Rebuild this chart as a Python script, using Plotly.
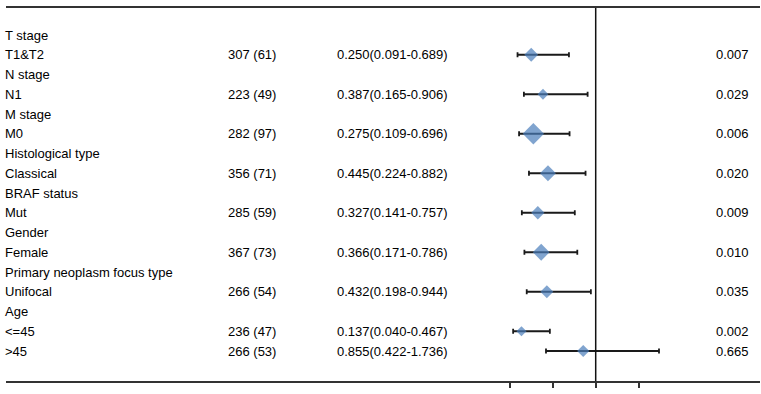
import plotly.graph_objects as go

# ---- data ----
row_labels = ["T stage", "T1&T2", "N stage", "N1", "M stage", "M0",
              "Histological type", "Classical", "BRAF status", "Mut",
              "Gender", "Female", "Primary neoplasm focus type", "Unifocal",
              "Age", "<=45", ">45"]
counts = ["", "307 (61)", "", "223 (49)", "", "282 (97)", "", "356 (71)",
          "", "285 (59)", "", "367 (73)", "", "266 (54)", "", "236 (47)", "266 (53)"]
hr = [None, 0.250, None, 0.387, None, 0.275, None, 0.445, None, 0.327,
      None, 0.366, None, 0.432, None, 0.137, 0.855]
ci_low = [None, 0.091, None, 0.165, None, 0.109, None, 0.224, None, 0.141,
          None, 0.171, None, 0.198, None, 0.040, 0.422]
ci_high = [None, 0.689, None, 0.906, None, 0.696, None, 0.882, None, 0.757,
           None, 0.786, None, 0.944, None, 0.467, 1.736]
pvals = ["", "0.007", "", "0.029", "", "0.006", "", "0.020", "", "0.009",
         "", "0.010", "", "0.035", "", "0.002", "0.665"]
x_ticks = [0, 0.5, 1, 1.5]

# ---- styles ----
marker_sizes = [10.6, 8.3, 16.4, 12.2, 10.2, 12.9, 9.9, 7.8, 9.4]
FONT = "Liberation Sans, Arial, sans-serif"
W, H = 761, 394
ML, MR, MT, MB = 6, 1, 8, 13
PX0, PX_PER = 509.7, 86.0          # pixel of x=0, pixels per unit
ROW0, ROW_STEP = 35.0, 19.75       # pixel of first row, row spacing

plot_w = W - ML - MR
plot_h = H - MT - MB
x_range = [(ML - PX0) / PX_PER, (W - MR - PX0) / PX_PER]
y_range = [(H - MB - ROW0) / ROW_STEP, (MT - ROW0) / ROW_STEP]


def px_to_paper(px):
    return (px - ML) / plot_w


idx = [i for i, v in enumerate(hr) if v is not None]
xs = [hr[i] for i in idx]
ys = [i for i in idx]
err_plus = [ci_high[i] - hr[i] for i in idx]
err_minus = [hr[i] - ci_low[i] for i in idx]

fig = go.Figure()
fig.add_trace(go.Scatter(
    x=xs, y=ys, mode="markers",
    marker=dict(symbol="diamond", size=marker_sizes, color="#4A7EBB",
                line=dict(width=0)),
    error_x=dict(type="data", symmetric=False, array=err_plus,
                 arrayminus=err_minus, color="#1a1a1a", thickness=1.8,
                 width=2.5),
    showlegend=False, hoverinfo="skip", cliponaxis=False,
))

fig.add_shape(type="line", x0=1, x1=1, xref="x", y0=0, y1=1, yref="paper",
              line=dict(color="#111111", width=1.5))

annotations = []
for i, lab in enumerate(row_labels):
    common = dict(yref="y", y=i, xref="paper", yanchor="middle",
                  showarrow=False, borderpad=0, borderwidth=0,
                  font=dict(family=FONT, size=13, color="#000000"))
    annotations.append(dict(text=lab, x=px_to_paper(5), xanchor="left", **common))
    if counts[i]:
        annotations.append(dict(text=counts[i], x=px_to_paper(228), xanchor="left", **common))
    if hr[i] is not None:
        t = f"{hr[i]:.3f}({ci_low[i]:.3f}-{ci_high[i]:.3f})"
        annotations.append(dict(text=t, x=px_to_paper(337), xanchor="left", **common))
    if pvals[i]:
        annotations.append(dict(text=pvals[i], x=px_to_paper(749), xanchor="right", **common))

fig.update_layout(
    width=W, height=H, margin=dict(l=ML, r=MR, t=MT, b=MB),
    paper_bgcolor="white", plot_bgcolor="white",
    annotations=annotations,
    xaxis=dict(range=x_range, showline=True, mirror=True, linewidth=2,
               linecolor="#333333", ticks="outside", ticklen=5, tickwidth=1.5,
               tickcolor="#333333", tickvals=x_ticks, showticklabels=False,
               showgrid=False, zeroline=False, fixedrange=True),
    yaxis=dict(range=y_range, showline=False, showgrid=False, zeroline=False,
               showticklabels=False, ticks="", fixedrange=True),
)

fig.write_html("out.html")
